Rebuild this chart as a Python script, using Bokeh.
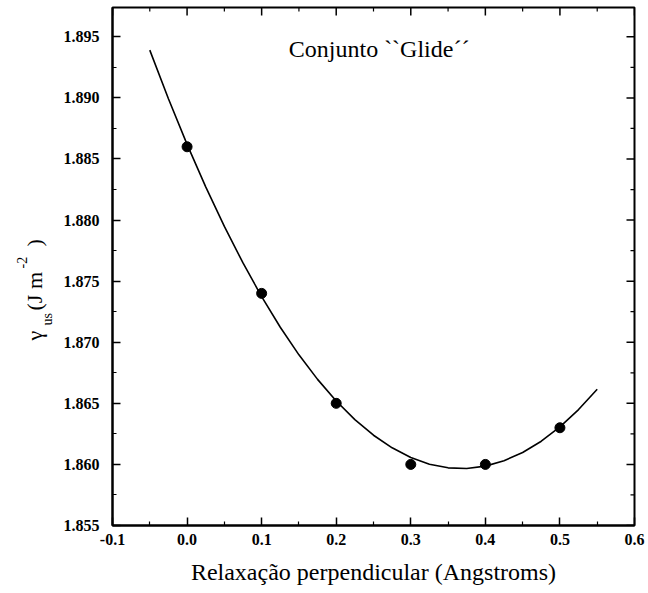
import numpy as np
from bokeh.plotting import figure
from bokeh.layouts import row
from bokeh.models import Range1d, LinearAxis, FixedTicker, Label, ColumnDataSource
from bokeh.core.properties import value
from bokeh.embed import file_html
from bokeh.resources import INLINE

# Measured points
x_points = [0.0, 0.1, 0.2, 0.3, 0.4, 0.5]
y_points = [1.886, 1.874, 1.865, 1.860, 1.860, 1.863]

# Fitted curve
x_curve = [-0.05, -0.025, 0.0, 0.025, 0.05, 0.075, 0.1, 0.125, 0.15, 0.175, 0.2, 0.225,
           0.25, 0.275, 0.3, 0.325, 0.35, 0.375, 0.4, 0.425, 0.45, 0.475, 0.5, 0.525, 0.55]
y_curve = [1.89391, 1.88993, 1.88620, 1.88272, 1.87948, 1.87649, 1.87374, 1.87123,
           1.86897, 1.86696, 1.86519, 1.86367, 1.86239, 1.86136, 1.86057, 1.86002,
           1.85972, 1.85967, 1.85986, 1.86030, 1.86098, 1.86190, 1.86307, 1.86449, 1.86615]

# Ticks
x_ticks = [-0.1, 0.0, 0.1, 0.2, 0.3, 0.4, 0.5, 0.6]
x_tick_labels = ["-0.1", "0.0", "0.1", "0.2", "0.3", "0.4", "0.5", "0.6"]
x_minor = [-0.05, 0.05, 0.15, 0.25, 0.35, 0.45, 0.55]
y_ticks = [1.855, 1.860, 1.865, 1.870, 1.875, 1.880, 1.885, 1.890, 1.895]
y_tick_labels = ["1.855", "1.860", "1.865", "1.870", "1.875", "1.880", "1.885", "1.890", "1.895"]
y_minor = [1.8575, 1.8625, 1.8675, 1.8725, 1.8775, 1.8825, 1.8875, 1.8925]

title_text = "Conjunto ``Glide\u00b4\u00b4"
x_label = "Relaxação perpendicular (Angstroms)"
# y label pieces: gamma_us (J m^-2)
ylab_texts = ["\u03b3", "us", "(J m", "-2", ")"]
ylab_sizes = ["22px", "14px", "22px", "14px", "22px"]

FONT = "Liberation Serif"
LABEL_W = 60
H = 593
FRAME_TOP, FRAME_BOTTOM = 7, 525

X0, X1 = -0.1, 0.6
Y0, Y1 = 1.855, 1.8974

# ---------- narrow panel holding the rotated y-axis label ----------
# (its frame is aligned with the main plot's frame by the row layout)
lp = figure(width=LABEL_W, height=H, output_backend="svg", toolbar_location=None,
            x_range=Range1d(0, LABEL_W), y_range=Range1d(H - FRAME_BOTTOM, H - FRAME_TOP),
            min_border=0, x_axis_location=None, y_axis_location=None)
lp.outline_line_color = None
lp.xgrid.visible = False
lp.ygrid.visible = False
lp.background_fill_color = "white"
lp.border_fill_color = "white"

lab_x = [34, 47, 34, 21, 34]
lab_y = [H - 340, H - 325, H - 310, H - 268, H - 246]
for t, fs, lx, ly in zip(ylab_texts, ylab_sizes, lab_x, lab_y):
    lp.text(x=[lx], y=[ly], text=[t], angle=np.pi / 2, text_font=value(FONT),
            text_font_size=value(fs), text_color="black",
            text_align="left", text_baseline="alphabetic")

# ---------- main plot ----------
p = figure(width=648 - LABEL_W, height=H, output_backend="svg", toolbar_location=None,
           x_range=Range1d(X0, X1), y_range=Range1d(Y0, Y1),
           min_border_left=110 - LABEL_W, min_border_right=14, min_border_top=FRAME_TOP,
           min_border_bottom=H - FRAME_BOTTOM, x_axis_location=None, y_axis_location=None)
p.background_fill_color = "white"
p.border_fill_color = "white"
p.outline_line_color = "black"
p.outline_line_width = 2
p.xgrid.visible = False
p.ygrid.visible = False


def style_axis(ax, ticks, minor, labels):
    ax.ticker = FixedTicker(ticks=ticks, minor_ticks=minor)
    ax.axis_line_color = "black"
    ax.axis_line_width = 2
    ax.major_tick_in = 8
    ax.major_tick_out = 0
    ax.minor_tick_in = 4
    ax.minor_tick_out = 0
    ax.major_tick_line_width = 1.5
    ax.minor_tick_line_width = 1.2
    ax.major_tick_line_color = "black"
    ax.minor_tick_line_color = "black"
    ax.major_label_overrides = {t: l for t, l in zip(ticks, labels)}
    ax.major_label_text_font = FONT
    ax.major_label_text_font_style = "bold"
    ax.major_label_text_font_size = "16px"
    ax.major_label_text_color = "black"


bottom = LinearAxis()
style_axis(bottom, x_ticks, x_minor, x_tick_labels)
bottom.major_label_standoff = 8
bottom.axis_label = x_label
bottom.axis_label_text_font = FONT
bottom.axis_label_text_font_size = "24px"
bottom.axis_label_text_font_style = "normal"
bottom.axis_label_text_color = "black"
bottom.axis_label_standoff = 11
p.add_layout(bottom, "below")

left = LinearAxis()
style_axis(left, y_ticks, y_minor, y_tick_labels)
left.major_label_standoff = 13
p.add_layout(left, "left")

# Mirror ticks on top and right edges: dashes centred on the edge, clipped by the frame
p.scatter(x=x_ticks, y=[Y1] * len(x_ticks), marker="dash", size=16, angle=np.pi / 2,
          line_color="black", line_width=1.5)
p.scatter(x=x_minor, y=[Y1] * len(x_minor), marker="dash", size=8, angle=np.pi / 2,
          line_color="black", line_width=1.2)
p.scatter(x=[X1] * len(y_ticks), y=y_ticks, marker="dash", size=16, angle=0,
          line_color="black", line_width=1.5)
p.scatter(x=[X1] * len(y_minor), y=y_minor, marker="dash", size=8, angle=0,
          line_color="black", line_width=1.2)

curve_src = ColumnDataSource(data=dict(x=x_curve, y=y_curve))
pts_src = ColumnDataSource(data=dict(x=x_points, y=y_points))
p.line("x", "y", source=curve_src, line_color="black", line_width=1.6)
p.scatter("x", "y", source=pts_src, size=10, fill_color="black", line_color="black")

# Title inside the plot
p.add_layout(Label(x=0.1364, y=1.8940, text=title_text, text_font=FONT,
                   text_font_size="24px", text_color="black",
                   text_align="left", text_baseline="alphabetic"))

layout = row(lp, p, spacing=0)
open("out.html", "w").write(file_html(layout, INLINE))
